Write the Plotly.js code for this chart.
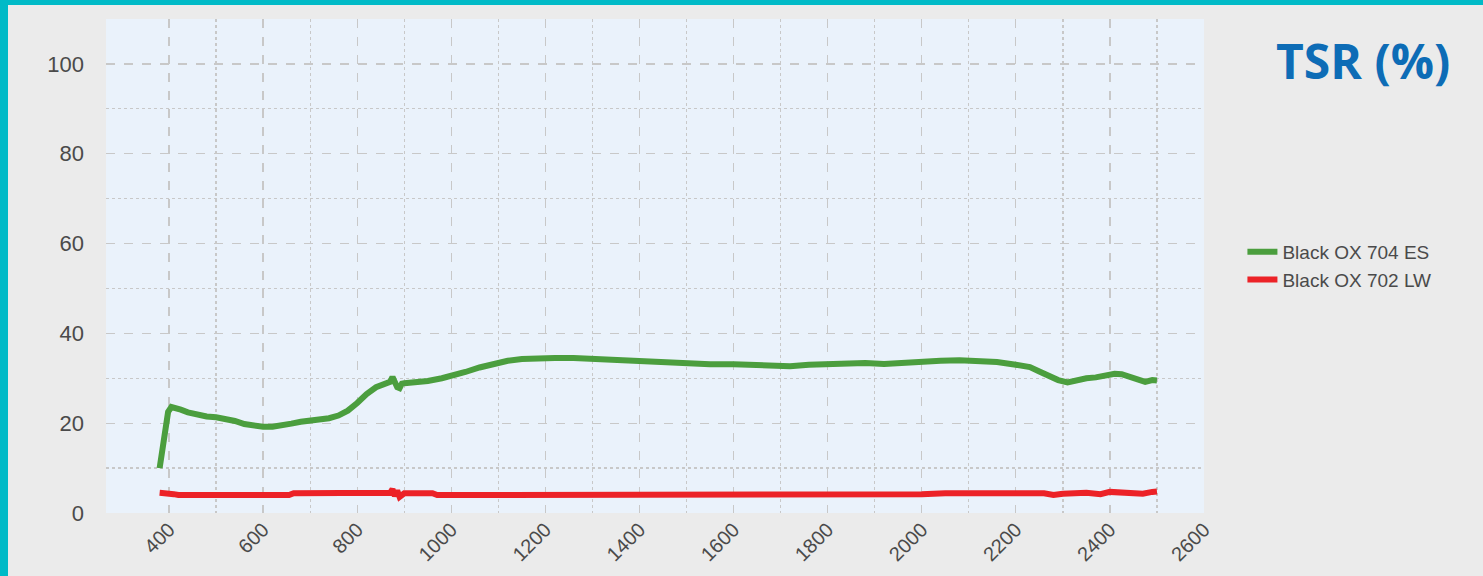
<!DOCTYPE html>
<html>
<head>
<meta charset="utf-8">
<script src="https://cdn.plot.ly/plotly-3.0.1.min.js"></script>
<style>
html,body{margin:0;padding:0;background:#00bac7;}
#wrap{position:absolute;left:8px;top:5px;width:1475px;height:571px;background:#ebebeb;}
#chart{width:1475px;height:571px;}
</style>
</head>
<body>
<div id="wrap"><div id="chart"></div></div>
<script>
const seriesNames = ["Black OX 704 ES", "Black OX 702 LW"];
const chartTitle = "TSR (%)";

const wlES = [380,385,392,398,405,412,425,440,460,480,500,520,540,560,580,600,620,640,660,680,700,720,740,760,780,800,820,840,860,870,875,880,885,890,895,900,920,950,980,1000,1030,1060,1090,1120,1150,1180,1220,1260,1300,1320,1360,1400,1450,1500,1550,1600,1650,1680,1720,1760,1800,1840,1880,1920,1960,2000,2040,2080,2120,2160,2200,2230,2250,2270,2290,2310,2330,2350,2370,2390,2410,2425,2440,2460,2475,2490,2500];
const tsrES = [10,14,19,22.5,23.6,23.5,23.0,22.4,21.9,21.5,21.3,21.0,20.5,19.8,19.4,19.2,19.2,19.4,19.9,20.3,20.5,20.7,21.1,21.7,22.8,24.5,26.5,28.0,28.8,29.2,30.3,29.0,28.0,27.8,28.8,28.9,29.0,29.4,30.0,30.5,31.4,32.4,33.2,33.9,34.3,34.5,34.5,34.5,34.3,34.0,33.9,33.6,33.3,33.1,33.1,33.1,33.0,32.7,32.7,33.0,33.2,33.5,33.4,33.2,33.5,33.7,33.9,34.0,33.8,33.6,33.0,32.5,31.5,30.5,29.6,29.1,29.6,30.0,30.2,30.6,31.0,30.9,30.4,29.7,29.2,29.6,29.5];

const wlLW = [380,400,410,420,500,600,655,665,800,870,875,880,885,890,900,960,970,1200,1500,1800,1900,1920,1950,2000,2050,2100,2150,2200,2230,2260,2280,2300,2350,2380,2400,2420,2450,2470,2490,2500];
const tsrLW = [4.5,4.5,4.2,4.0,4.0,4.0,4.0,4.4,4.4,4.5,5.3,3.8,5.0,3.6,4.4,4.4,4.0,4.0,4.0,4.0,4.0,4.2,3.9,4.2,4.4,4.4,4.4,4.4,4.1,4.4,4.0,4.3,4.5,4.2,4.7,4.6,4.5,4.3,4.7,4.8];

const xTickVals = [400,600,800,1000,1200,1400,1600,1800,2000,2200,2400,2600];
const yTickVals = [0,20,40,60,80,100];

const minorX = [];
for (let v = 500; v <= 2500; v += 200) minorX.push(v);
const minorY = [];
for (let v = 10; v <= 90; v += 20) minorY.push(v);

const gridC = '#c8c8c8';
const traces = [
  {x: wlES, y: tsrES, name: seriesNames[0], mode: 'lines', line: {color: '#4b9e3e', width: 6}},
  {x: wlLW, y: tsrLW, name: seriesNames[1], mode: 'lines', line: {color: '#ec2227', width: 6}}
];

const layout = {
  width: 1475, height: 571,
  margin: {l: 98, r: 279, t: 14, b: 63},
  paper_bgcolor: '#ebebeb',
  plot_bgcolor: '#eaf2fb',
  font: {family: 'Liberation Sans, Arial, sans-serif', color: '#4a4a4a'},
  showlegend: true,
  legend: {x: 1.035, y: 0.5, xanchor: 'left', yanchor: 'middle', bgcolor: 'rgba(0,0,0,0)',
           font: {size: 19, color: '#4a4a4a'}, tracegroupgap: 0, itemwidth: 30},
  xaxis: {
    range: [266, 2600], tickmode: 'array', tickvals: xTickVals, ticktext: xTickVals.map(String),
    tickangle: -45, tickfont: {size: 20, color: '#4a4a4a'},
    showgrid: true, gridcolor: gridC, griddash: 'dash', gridwidth: 1.3,
    zeroline: false, showline: false, ticks: '',
    minor: {tickmode: 'array', tickvals: minorX, showgrid: true, gridcolor: gridC, griddash: 'dot', gridwidth: 1.3, ticks: ''}
  },
  yaxis: {
    range: [0, 110], tickmode: 'array', tickvals: yTickVals, ticktext: yTickVals.map(String),
    tickfont: {size: 22, color: '#4a4a4a'}, ticklabelstandoff: 21,
    showgrid: true, gridcolor: gridC, griddash: 'dash', gridwidth: 1.3,
    zeroline: false, showline: false, ticks: '',
    minor: {tickmode: 'array', tickvals: minorY, showgrid: true, gridcolor: gridC, griddash: 'dot', gridwidth: 1.3, ticks: ''}
  },
  annotations: [{
    text: chartTitle, xref: 'paper', yref: 'paper', x: 1.145, y: 0.917,
    xanchor: 'center', yanchor: 'middle', showarrow: false,
    font: {family: 'Open Sans, sans-serif', size: 48, color: '#0d6cb6', weight: 700}
  }]
};

Plotly.newPlot('chart', traces, layout, {displayModeBar: false, staticPlot: true});
</script>
</body>
</html>
